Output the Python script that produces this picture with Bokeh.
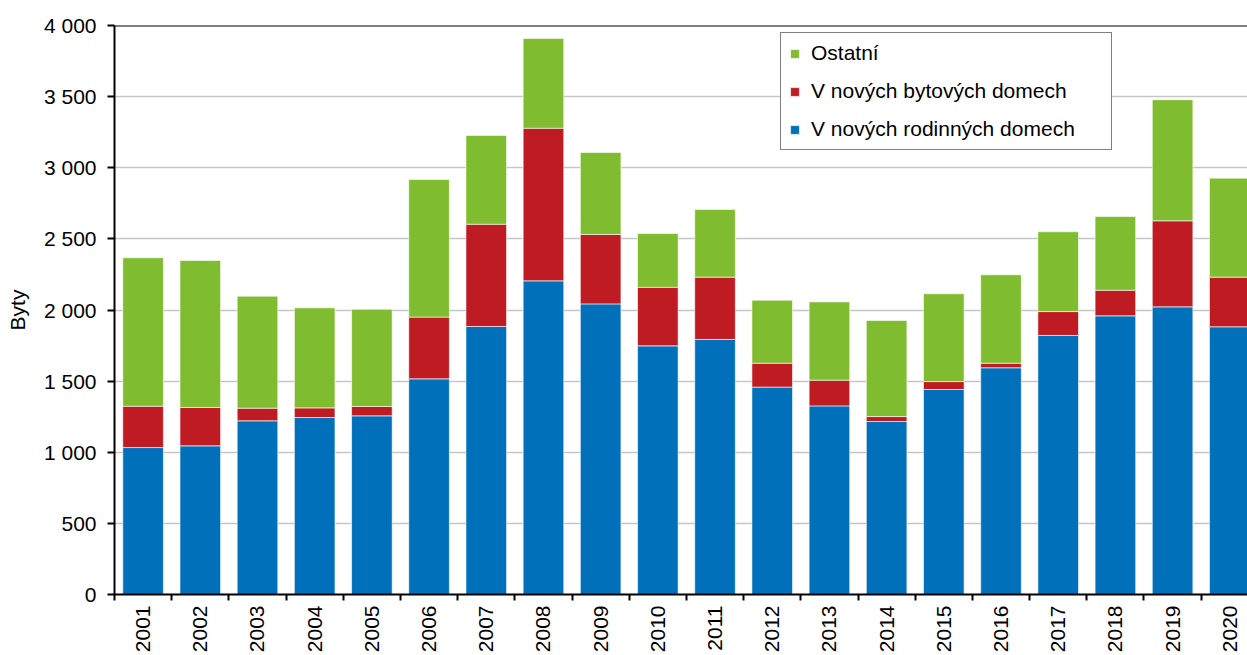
from bokeh.plotting import figure
from bokeh.models import ColumnDataSource, Range1d, FixedTicker, Legend, LegendItem, Span
from bokeh.embed import file_html
from bokeh.resources import INLINE

years = list(range(2001, 2021))
rodinne = [1033, 1045, 1221, 1244, 1256, 1516, 1884, 2205, 2043, 1748,
           1793, 1458, 1326, 1216, 1441, 1594, 1821, 1959, 2022, 1882]
bytove = [291, 270, 89, 68, 66, 434, 719, 1073, 488, 412,
          438, 168, 181, 35, 56, 32, 168, 180, 605, 349]
ostatni = [1043, 1033, 787, 703, 683, 967, 624, 631, 576, 378,
           476, 443, 550, 675, 617, 621, 561, 518, 851, 696]
series_names = ["V nových rodinných domech", "V nových bytových domech", "Ostatní"]
colors = ["#0070bb", "#be1b23", "#80bc2f"]
y_ticks = [0, 500, 1000, 1500, 2000, 2500, 3000, 3500, 4000]
y_tick_labels = ["0", "500", "1 000", "1 500", "2 000", "2 500", "3 000", "3 500", "4 000"]

FONT = "Liberation Sans"
FS = "21px"

src = ColumnDataSource(dict(x=years, rod=rodinne, byt=bytove, ost=ostatni))

p = figure(width=1247, height=655, output_backend="svg", toolbar_location=None,
           x_range=Range1d(2000.5, 2020.31), y_range=Range1d(0, 4000),
           min_border_left=114, min_border_right=0, min_border_top=25, min_border_bottom=61)
p.outline_line_color = None
p.background_fill_color = "white"
p.border_fill_color = "white"

rs = p.vbar_stack(["rod", "byt", "ost"], x="x", width=0.71, source=src,
                  fill_color=colors, line_color="white", line_alpha=0.6, line_width=1)

# axes
p.xaxis.ticker = FixedTicker(ticks=years, minor_ticks=[y + 0.5 for y in range(2000, 2021)])
p.xaxis.major_tick_out = 0
p.xaxis.major_tick_in = 0
p.xaxis.minor_tick_out = 6
p.xaxis.minor_tick_in = 0
p.xaxis.minor_tick_line_color = "black"
p.xaxis.minor_tick_line_width = 2
p.xaxis.major_label_orientation = 1.5707963
p.xaxis.major_label_standoff = 5

p.yaxis.ticker = FixedTicker(ticks=y_ticks)
p.yaxis.major_label_overrides = {t: l for t, l in zip(y_ticks, y_tick_labels)}
p.yaxis.major_tick_out = 7
p.yaxis.major_tick_in = 0
p.yaxis.minor_tick_line_color = None
p.yaxis.major_label_standoff = 11
p.yaxis.axis_label = "Byty"
p.yaxis.axis_label_standoff = 12

for ax in (p.xaxis, p.yaxis):
    ax.axis_line_color = "black"
    ax.axis_line_width = 2
    ax.major_tick_line_color = "black"
    ax.major_tick_line_width = 2
    ax.major_label_text_font = FONT
    ax.major_label_text_font_size = FS
    ax.major_label_text_color = "black"
    ax.axis_label_text_font = FONT
    ax.axis_label_text_font_size = FS
    ax.axis_label_text_font_style = "normal"
    ax.axis_label_text_color = "black"

p.xgrid.grid_line_color = None
p.ygrid.grid_line_color = "#c6c6c6"
p.ygrid.grid_line_width = 1.5

p.add_layout(Span(location=4000, dimension="width", line_color="black", line_width=2))

items = [LegendItem(label=series_names[i], renderers=[rs[i]]) for i in (2, 1, 0)]
legend = Legend(items=items, location=(666, 444), orientation="vertical",
                label_text_font=FONT, label_text_font_size=FS, label_text_color="black",
                glyph_width=11, glyph_height=11, label_standoff=11, label_width=292,
                spacing=14, padding=8, margin=0,
                border_line_color="black", border_line_width=1.5,
                background_fill_color="white", background_fill_alpha=1.0)
p.add_layout(legend, "center")

open("out.html", "w").write(file_html(p, INLINE))
